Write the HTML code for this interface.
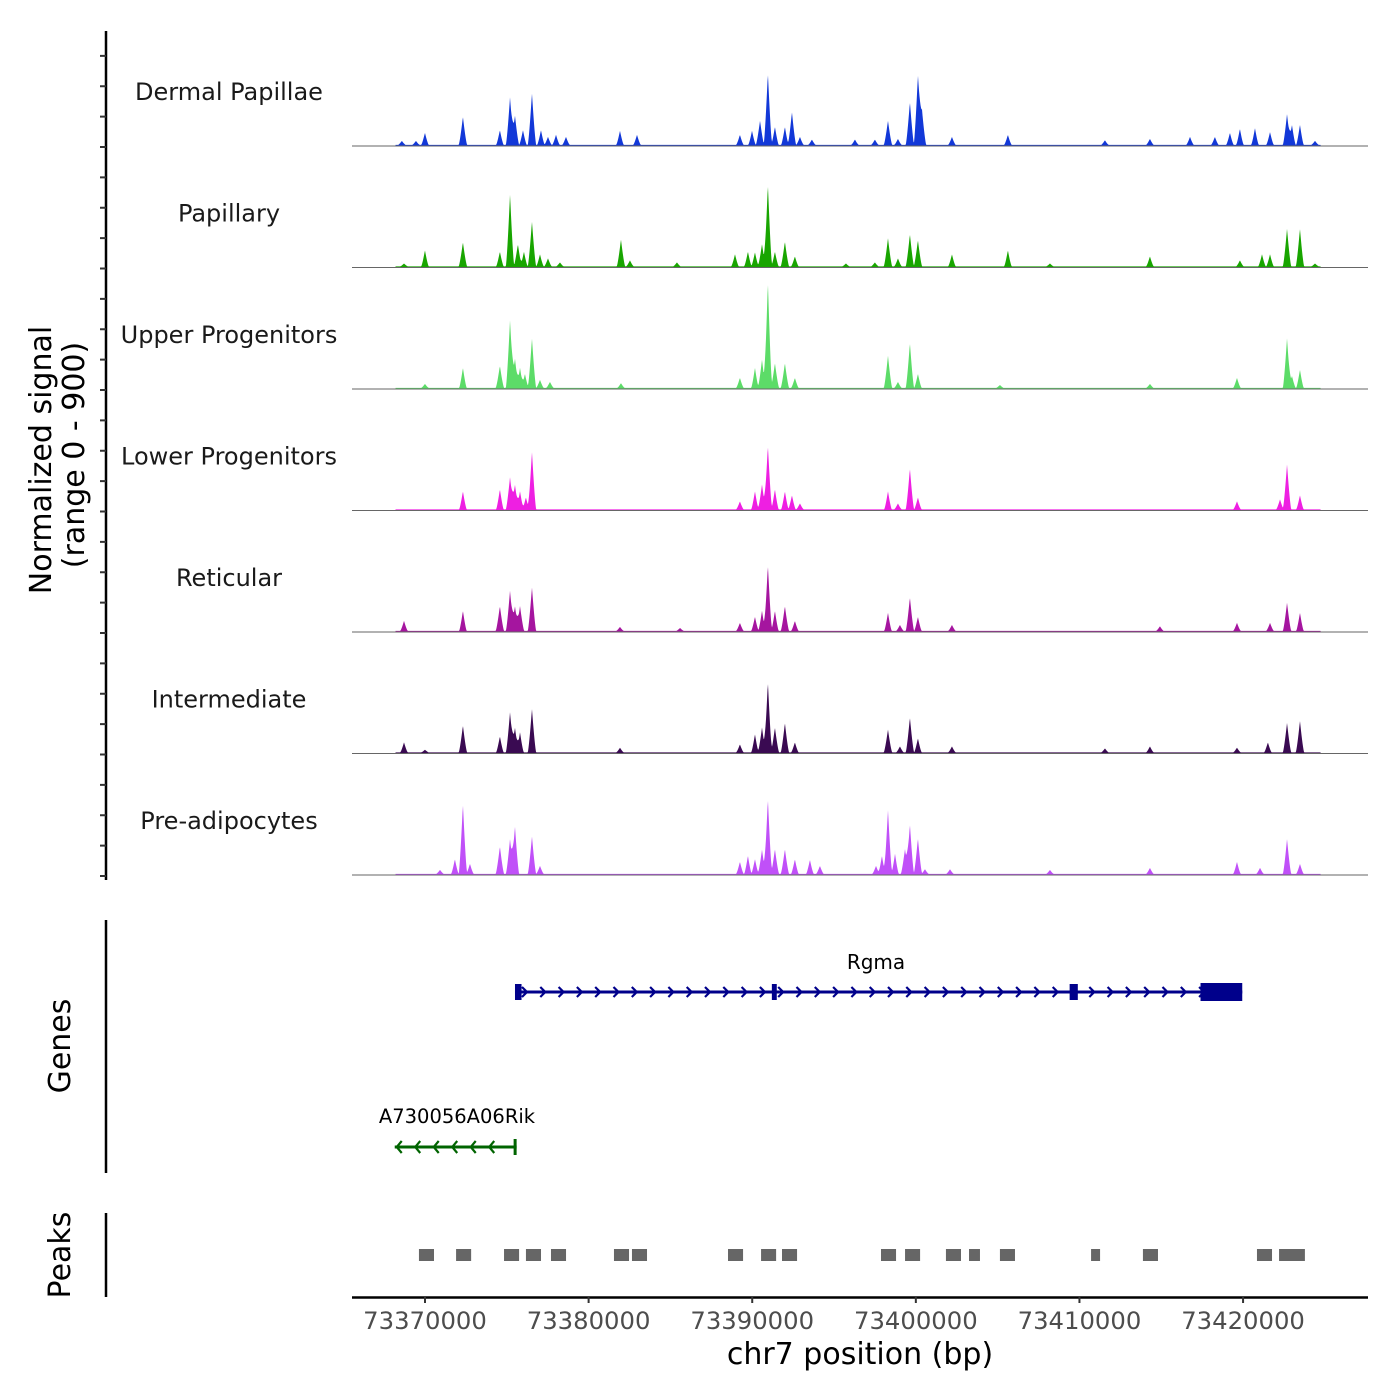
<!DOCTYPE html>
<html><head><meta charset="utf-8">
<style>
html,body{margin:0;padding:0;background:#fff;}
svg{display:block;font-family:"DejaVu Sans","Liberation Sans",sans-serif;}
</style></head>
<body>
<svg id="chart" width="1400" height="1400" viewBox="0 0 1400 1400"></svg>
<script>
// ---- data ----
const trackNames = ["Dermal Papillae","Papillary","Upper Progenitors","Lower Progenitors","Reticular","Intermediate","Pre-adipocytes"];
const trackColors = ["#1238d8","#18a500","#5cdc68","#ee1fe2","#a5159f","#3a0a52","#c050f8"];
// peak positions in kb, heights in normalized signal units (0-900)
const pos0 = [73368.59,73369.45,73370.00,73372.32,73374.58,73375.20,73375.50,73375.99,73376.54,73377.09,73377.52,73378.01,73378.62,73381.92,73382.96,73389.25,73389.99,73390.48,73390.96,73391.39,73392.00,73392.43,73392.92,73393.65,73396.28,73397.50,73398.30,73398.91,73399.64,73400.13,73400.38,73402.21,73405.63,73411.56,73414.31,73416.76,73418.28,73419.20,73419.81,73420.73,73421.65,73422.69,73422.99,73423.48,73424.40];
const val0 = [30,30,90,210,110,355,220,110,385,110,60,75,60,105,75,75,105,180,535,135,135,245,60,40,40,40,180,45,320,520,260,60,75,35,45,60,60,90,120,125,95,230,150,150,30];
const pos1 = [73368.72,73370.00,73372.32,73374.58,73375.20,73375.68,73376.05,73376.54,73377.03,73377.52,73378.25,73381.98,73382.53,73385.40,73388.95,73389.74,73390.17,73390.60,73390.96,73391.39,73392.00,73392.61,73395.73,73397.50,73398.30,73398.91,73399.64,73400.13,73402.21,73405.63,73408.20,73414.31,73419.81,73421.16,73421.65,73422.69,73423.48,73424.40];
const val1 = [22,120,180,110,535,165,110,335,90,60,30,200,45,30,90,110,105,165,610,110,185,75,22,30,210,60,240,195,90,120,22,75,45,90,90,280,280,22];
const pos2 = [73370.00,73372.32,73374.58,73375.20,73375.50,73375.81,73376.11,73376.54,73377.03,73377.64,73381.98,73389.25,73390.17,73390.60,73390.96,73391.39,73392.00,73392.61,73398.30,73398.91,73399.64,73400.13,73405.14,73414.31,73419.63,73422.69,73422.99,73423.48];
const val2 = [30,150,165,505,220,150,105,370,60,45,35,75,150,210,790,185,185,75,240,45,335,105,22,30,75,370,90,135];
const pos3 = [73372.32,73374.58,73375.20,73375.50,73375.81,73376.17,73376.54,73389.25,73390.17,73390.60,73390.96,73391.39,73392.00,73392.43,73392.92,73398.30,73398.91,73399.64,73400.13,73419.63,73422.26,73422.69,73423.48];
const val3 = [135,150,240,185,135,90,430,60,135,185,475,150,135,105,45,135,45,305,90,60,75,335,105];
const pos4 = [73368.72,73372.32,73374.58,73375.20,73375.50,73375.81,73376.54,73381.92,73385.59,73389.25,73390.17,73390.60,73390.96,73391.39,73392.00,73392.61,73398.30,73399.03,73399.64,73400.13,73402.21,73414.92,73419.63,73421.65,73422.69,73423.48];
const val4 = [75,150,185,300,185,185,325,30,22,60,105,150,490,150,185,75,135,45,250,105,45,35,60,60,210,135];
const pos5 = [73368.72,73370.00,73372.32,73374.58,73375.20,73375.50,73375.81,73376.54,73381.92,73389.25,73390.17,73390.60,73390.96,73391.39,73392.00,73392.61,73398.30,73399.03,73399.64,73400.13,73402.21,73411.56,73414.31,73419.63,73421.52,73422.69,73423.48];
const val5 = [75,20,200,120,300,185,150,325,35,60,135,185,525,185,220,75,170,45,260,105,45,30,45,35,75,220,235];
const pos6 = [73370.92,73371.83,73372.32,73372.75,73374.58,73375.20,73375.50,73376.54,73377.03,73389.25,73389.74,73390.17,73390.60,73390.96,73391.39,73392.00,73392.61,73393.53,73394.14,73397.57,73397.93,73398.30,73398.73,73399.34,73399.64,73400.13,73400.56,73402.09,73408.20,73414.31,73419.63,73421.04,73422.69,73423.48];
const val6 = [30,110,520,75,205,260,355,280,60,90,135,110,180,560,185,185,110,105,60,60,135,475,150,185,370,265,35,35,30,45,90,45,260,75];
const trackPos = [pos0,pos1,pos2,pos3,pos4,pos5,pos6];
const trackVal = [val0,val1,val2,val3,val4,val5,val6];
const xTicks = [73370000,73380000,73390000,73400000,73410000,73420000];
const xTickLabels = ["73370000","73380000","73390000","73400000","73410000","73420000"];
const peakStarts = [73369.63,73371.90,73374.83,73376.17,73377.70,73381.55,73382.65,73388.52,73390.54,73391.82,73397.87,73399.34,73401.84,73403.25,73405.14,73410.71,73413.88,73420.85,73422.20,73423.11];
const peakEnds   = [73370.55,73372.82,73375.75,73377.09,73378.62,73382.47,73383.57,73389.44,73391.46,73392.74,73398.79,73400.26,73402.76,73403.92,73406.06,73411.26,73414.80,73421.77,73423.12,73423.78];
const rgmaStart = 73375.5, rgmaEnd = 73419.95;
const rgmaExonStart = [73375.5,73391.2,73409.4,73417.4];
const rgmaExonEnd   = [73375.9,73391.5,73409.9,73419.95];
const rikStart = 73368.15, rikEnd = 73375.6;

// ---- scales ----
const X0=352, X1=1368;
const kbPerPx = 0.06112;
const dMin = 73370 - (425-X0)*kbPerPx, dMax = 73370 + (X1-425)*kbPerPx;
function xKb(kb){return X0 + (kb-dMin)/(dMax-dMin)*(X1-X0);}
function xBp(bp){return xKb(bp/1000);}
const baselines=[146,267.5,389,510.5,632,753.5,875];
const trackH=121.5;
function yVal(v,b){return b - v/900*trackH;}

const svg=document.getElementById('chart');
const NS='http://www.w3.org/2000/svg';
function mk(tag,attrs,parent){const e=document.createElementNS(NS,tag);for(const k in attrs)e.setAttribute(k,attrs[k]);(parent||svg).appendChild(e);return e;}

// y axis for tracks
const ax=mk('line',{x1:106,y1:31,x2:106,y2:880,stroke:'#000','stroke-width':2.5});


for(let k=0;k<=27;k++){const y=876-k*30.375;
 const t=mk('line',{x1:100,y1:y,x2:106,y2:y,stroke:'#333','stroke-width':2});
 
 }

// tracks
const dataStart=xKb(73368.2), dataEnd=xKb(73424.75);
for(let i=0;i<7;i++){
 const b=baselines[i], P=trackPos[i], V=trackVal[i];
 let d='M'+dataStart+','+b;
 for(let x=dataStart;x<=dataEnd;x+=0.5){
  let v=8;
  for(let j=0;j<P.length;j++){const dx=Math.abs(x-xKb(P[j]));const w=V[j]>150?4.2:3.8;if(dx<w)v+=V[j]*Math.pow(1-dx/w,1.3);}
  d+=' L'+x.toFixed(1)+','+yVal(v,b).toFixed(2);
 }
 d+=' L'+dataEnd+','+b+' Z';
 const p=mk('path',{d:d,fill:trackColors[i],stroke:'none'});
 
 
 const bl=mk('line',{x1:X0,y1:b,x2:X1,y2:b,stroke:'#666','stroke-width':1});
 
 
 const lb=mk('text',{x:229,y:b-46,'text-anchor':'middle','font-size':24,fill:'#1a1a1a'});
 lb.textContent=trackNames[i];
 
 
}
const yt=mk('text',{transform:'translate(51,460) rotate(-90)','text-anchor':'middle','font-size':30,fill:'#000'});
yt.textContent='Normalized signal';


const yt2=mk('text',{transform:'translate(84,455) rotate(-90)','text-anchor':'middle','font-size':30,fill:'#000'});
yt2.textContent='(range 0 - 900)';



// genes panel
const ga=mk('line',{x1:106,y1:920,x2:106,y2:1173,stroke:'#000','stroke-width':2.5});


const gt=mk('text',{transform:'translate(70,1046) rotate(-90)','text-anchor':'middle','font-size':30,fill:'#000'});
gt.textContent='Genes';



const gRg=mk('g',{});


const ry=992, rx0=xKb(rgmaStart), rx1=xKb(rgmaEnd);
mk('line',{x1:rx0,y1:ry,x2:rx1,y2:ry,stroke:'#00008b','stroke-width':3},gRg);
for(let x=rx0+10;x<rx1-30;x+=18.3){mk('path',{d:`M${x-3},${ry-5} L${x+2},${ry} L${x-3},${ry+5}`,fill:'none',stroke:'#00008b','stroke-width':2.2},gRg);}
for(let j=0;j<rgmaExonStart.length;j++){
 const a=xKb(rgmaExonStart[j]), e=xKb(rgmaExonEnd[j]);
 const big=(e-a)>20;
 const r=mk('rect',{x:a,y:big?ry-9:ry-8,width:Math.max(e-a,4),height:big?18:16,fill:'#00008b'},gRg);
 
 
}
const rl=mk('text',{x:876,y:969,'text-anchor':'middle','font-size':20,fill:'#000'},gRg);
rl.textContent='Rgma';

const gRk=mk('g',{});


const ky=1147, kx0=xKb(rikStart), kx1=xKb(rikEnd);
mk('line',{x1:kx0,y1:ky,x2:kx1,y2:ky,stroke:'#006400','stroke-width':3},gRk);
for(let x=kx0+3;x<kx1-8;x+=18.5){mk('path',{d:`M${x+4},${ky-6} L${x-1},${ky} L${x+4},${ky+6}`,fill:'none',stroke:'#006400','stroke-width':2.2},gRk);}
mk('rect',{x:kx1-3,y:ky-8,width:3,height:16,fill:'#006400'},gRk);
const kl=mk('text',{x:457,y:1123,'text-anchor':'middle','font-size':19.5,fill:'#000'},gRk);
kl.textContent='A730056A06Rik';

// peaks panel
const pa=mk('line',{x1:106,y1:1213,x2:106,y2:1297,stroke:'#000','stroke-width':2.5});


const pt=mk('text',{transform:'translate(70,1255) rotate(-90)','text-anchor':'middle','font-size':30,fill:'#000'});
pt.textContent='Peaks';


for(let j=0;j<peakStarts.length;j++){
 const a=xKb(peakStarts[j]), e=xKb(peakEnds[j]);
 const r=mk('rect',{x:a,y:1249,width:e-a,height:12,fill:'#666'});
 
 
}

// x axis
const xa=mk('line',{x1:X0,y1:1297.5,x2:X1,y2:1297.5,stroke:'#000','stroke-width':2.5});


for(let j=0;j<xTicks.length;j++){
 const x=xBp(xTicks[j]);
 const t=mk('line',{x1:x,y1:1297,x2:x,y2:1303,stroke:'#333','stroke-width':2});
 
 
 const l=mk('text',{x:x,y:1329,'text-anchor':'middle','font-size':24.3,fill:'#4d4d4d'});
 l.textContent=xTickLabels[j];
 
 
}
const xt=mk('text',{x:860,y:1364,'text-anchor':'middle','font-size':30,fill:'#000'});
xt.textContent='chr7 position (bp)';


</script>
</body></html>
